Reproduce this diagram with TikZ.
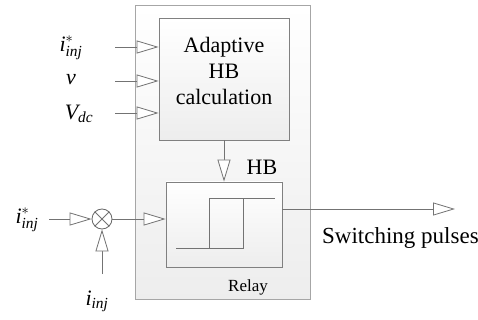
\documentclass[tikz,border=0pt]{standalone}
\usepackage{amsmath}
\usepackage{fontspec}
\setmainfont{Liberation Serif}
\usetikzlibrary{arrows.meta}

\tikzset{
  sig/.style={draw=black!55, line width=0.8pt, -{Triangle[length=22pt,width=13pt,fill=white]}},
  wire/.style={draw=black!55, line width=0.8pt},
  blk/.style={draw=black!50, line width=0.8pt, top color=white, bottom color=black!7, inner sep=0pt},
  lbl/.style={font=\fontsize{22}{24}\selectfont, inner sep=0pt},
}

\begin{document}
\begin{tikzpicture}[x=1pt,y=-1pt, font=\fontsize{22}{26}\selectfont]
   \useasboundingbox (0,0) rectangle (478,320);

   % blocks
   \node[blk, draw=black!35, minimum width=175pt, minimum height=294pt] (outer) at (222.5,152) {};
   \node[blk, minimum width=130pt, minimum height=122pt] (adapt) at (224,79) {};
   \node[align=center, inner sep=0pt] (adapttxt) at (224,71) {Adaptive\\HB\\calculation};
   \node[blk, minimum width=116pt, minimum height=85pt] (relay) at (224,224.5) {};

   % hysteresis loop
   \draw[wire] (176,248) -- (243,248) -- (243,198);
   \draw[wire] (209,248) -- (209,198) -- (275,198);

   \node (hb) at (262,167) {HB};
   \node[font=\fontsize{17}{20}\selectfont] (rl) at (248,287) {Relay};
   \node[anchor=west, inner sep=0pt, font=\fontsize{23}{26}\selectfont] (sw) at (322,238) {Switching pulses};

   % input labels
   \node[lbl] (iref) at (71,48) {$\textit{i}^{*}_{\textit{inj}}$};
   \node[lbl] (vv) at (71,80) {$\textit{v}$};
   \node[lbl] (vdc) at (79,114) {$\textit{V}_{\textit{dc}}$};
   \node[lbl] (irefb) at (27,220) {$\textit{i}^{*}_{\textit{inj}}$};
   \node[lbl] (ifb) at (97,301) {$\textit{i}_{\textit{inj}}$};

   % summing junction
   \node[circle, draw=black!60, line width=0.8pt, fill=white, minimum size=20pt, inner sep=0pt] (sum) at (102,219) {};
   \draw[wire] (sum.north west) -- (sum.south east);
   \draw[wire] (sum.north east) -- (sum.south west);

   % connectors
   \coordinate (a1) at (115,47);
   \coordinate (a2) at (115,81);
   \coordinate (a3) at (115,113);
   \draw[sig] (a1) -- (a1 -| adapt.west);
   \draw[sig] (a2) -- (a2 -| adapt.west);
   \draw[sig] (a3) -- (a3 -| adapt.west);
   \draw[sig] (adapt.south) -- (relay.north);

   \coordinate (s1) at (49,219);
   \coordinate (s2) at (102,274);
   \draw[sig] (s1) -- (sum.west);
   \draw[sig] (s2) -- (sum.south);
   \draw[sig] (sum.east) -- (sum.east -| relay.west);

   \coordinate (out) at (455,209);
   \draw[sig] (out -| relay.east) -- (out);
\end{tikzpicture}
\end{document}
